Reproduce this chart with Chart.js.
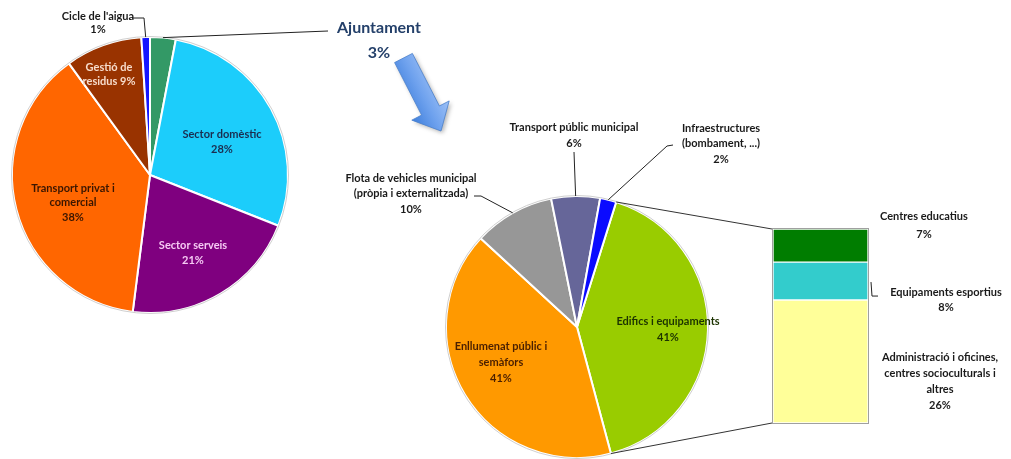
<!DOCTYPE html>
<html>
<head>
<meta charset="utf-8">
<title>Consum energètic</title>
<script src="https://cdn.jsdelivr.net/npm/chart.js@4.4.0/dist/chart.umd.min.js"></script>
<style>
  html, body { margin: 0; padding: 0; background: #fff; overflow: hidden; }
  #wrap { position: relative; width: 1011px; height: 459px; }
  #wrap canvas { position: absolute; left: 0; top: 0; }
</style>
</head>
<body>
<div id="wrap">
  <canvas id="total-chart" width="1011" height="459"></canvas>
  <canvas id="ajunt-chart" width="1011" height="459"></canvas>
  <canvas id="edif-chart" width="1011" height="459"></canvas>
</div>
<script>
// --- data ---
const totalLabels = [['Ajuntament'], ['Sector domèstic'], ['Sector serveis'], ['Transport privat i', 'comercial'], ['Gestió de', 'residus'], ["Cicle de l'aigua"]];
const totalValues = [3, 28, 21, 38, 9, 1];
const totalColors = ['#339966', '#1ccdfb', '#7f007f', '#ff6600', '#993300', '#1515ff'];

const ajuntLabels = [['Edifics i equipaments'], ['Enllumenat públic i', 'semàfors'], ['Flota de vehicles municipal', '(pròpia i externalitzada)'], ['Transport públic municipal'], ['Infraestructures', '(bombament, ...)']];
const ajuntValues = [41, 41, 10, 6, 2];
const ajuntColors = ['#99cc00', '#ff9900', '#979797', '#666699', '#0a0aff'];

const edifLabels = [['Administració i oficines,', 'centres socioculturals i', 'altres'], ['Equipaments esportius'], ['Centres educatius']];
const edifValues = [26, 8, 7];
const edifColors = ['#ffff99', '#33cccc', '#007d00'];

const FONT = 'Lato, "Liberation Sans", sans-serif';

// label placement (offsets from pie centre / bar segment centre)
const totalLayout = [
  { dx: 229, dy: -147, lh: 25, size: 16, color: '#24406a', leader: [[178, -144]] },
  { dx: 72, dy: -41, lh: 15, color: '#1b2d4f' },
  { dx: 43, dy: 70, lh: 15, color: '#f6c9f4' },
  { dx: -77, dy: 13, lh: 14.5, color: '#3a1600' },
  { dx: -41, dy: -108, lh: 14, color: '#f7dccb', inline: true },
  { dx: -52, dy: -159, lh: 13, color: '#1a1a1a', leader: [[-18, -157], [-6, -157]] }
];
const ajuntLayout = [
  { dx: 91, dy: -6, lh: 16, color: '#1c3300' },
  { dx: -76, dy: 19, lh: 16, color: '#4a1f00' },
  { dx: -166, dy: -149, lh: 15.5, color: '#1a1a1a', leader: [[-103, -131], [-96, -131]] },
  { dx: -3, dy: -200, lh: 16, color: '#1a1a1a', leader: [[-3, -175]] },
  { dx: 144, dy: -199, lh: 15.5, color: '#1a1a1a', leader: [[96, -182], [90, -181]] }
];
const edifLayout = [
  { dx: 119.5, dy: -4.5, lh: 16, color: '#1a1a1a' },
  { dx: 125.5, dy: 11, lh: 15, color: '#1a1a1a', leader: [[50.5, 1], [51.5, 15], [57.5, 15]], free: true },
  { dx: 103.5, dy: -29.5, lh: 18, color: '#1a1a1a' }
];

function anchorOf(el) {
  if (el.base !== undefined) {
    return { x: el.x, y: (el.y + el.base) / 2 };
  }
  return { x: el.x, y: el.y };
}

function markPoint(el) {
  const mid = (el.startAngle + el.endAngle) / 2;
  return { x: el.x + Math.cos(mid) * el.outerRadius, y: el.y + Math.sin(mid) * el.outerRadius };
}

const sliceLabels = {
  id: 'sliceLabels',
  afterDatasetsDraw(chart, args, opts) {
    const ctx = chart.ctx;
    const meta = chart.getDatasetMeta(0);
    const values = chart.data.datasets[0].data;
    ctx.save();
    ctx.textAlign = 'center';
    ctx.textBaseline = 'middle';
    opts.items.forEach((it, i) => {
      const el = meta.data[i];
      const a = anchorOf(el);
      if (it.leader) {
        ctx.beginPath();
        ctx.strokeStyle = '#222';
        ctx.lineWidth = 1;
        it.leader.forEach((p, k) => {
          const x = a.x + p[0], y = a.y + p[1];
          if (k === 0) ctx.moveTo(x, y); else ctx.lineTo(x, y);
        });
        if (!it.free) {
          const m = markPoint(el);
          ctx.lineTo(m.x, m.y);
        }
        ctx.stroke();
      }
      const lines = chart.data.labels[i].slice();
      const pct = values[i] + '%';
      if (it.inline) lines[lines.length - 1] += ' ' + pct; else lines.push(pct);
      ctx.fillStyle = it.color;
      ctx.font = 'bold ' + (it.size || 11) + 'px ' + FONT;
      lines.forEach((t, k) => ctx.fillText(t, a.x + it.dx, a.y + it.dy + k * it.lh));
    });
    ctx.restore();
  }
};

const pieRim = {
  id: 'pieRim',
  afterDatasetsDraw(chart) {
    const el = chart.getDatasetMeta(0).data[0];
    const ctx = chart.ctx;
    ctx.save();
    ctx.beginPath();
    ctx.strokeStyle = '#cfcfcf';
    ctx.lineWidth = 1;
    ctx.arc(el.x, el.y, el.outerRadius + 0.5, 0, Math.PI * 2);
    ctx.stroke();
    ctx.restore();
  }
};

// the big blue arrow between the two pies
const blueArrow = {
  id: 'blueArrow',
  afterDraw(chart) {
    const ctx = chart.ctx;
    const tail = [403.5, 58], tip = [441, 131];
    const len = Math.hypot(tip[0] - tail[0], tip[1] - tail[1]);
    const ux = (tip[0] - tail[0]) / len, uy = (tip[1] - tail[1]) / len;
    const nx = -uy, ny = ux;
    const shaft = 10, head = 21, headLen = 23;
    const bx = tip[0] - ux * headLen, by = tip[1] - uy * headLen;
    const pts = [
      [tail[0] + nx * shaft, tail[1] + ny * shaft],
      [bx + nx * shaft, by + ny * shaft],
      [bx + nx * head, by + ny * head],
      tip,
      [bx - nx * head, by - ny * head],
      [bx - nx * shaft, by - ny * shaft],
      [tail[0] - nx * shaft, tail[1] - ny * shaft]
    ];
    ctx.save();
    ctx.shadowColor = 'rgba(0,0,0,0.3)';
    ctx.shadowBlur = 4;
    ctx.shadowOffsetX = 2;
    ctx.shadowOffsetY = 2;
    const g = ctx.createLinearGradient(tail[0] + nx * head, tail[1] + ny * head, tail[0] - nx * head, tail[1] - ny * head);
    g.addColorStop(0, '#3f7fdc');
    g.addColorStop(0.5, '#6fa2ee');
    g.addColorStop(1, '#9cc0f6');
    ctx.fillStyle = g;
    ctx.beginPath();
    pts.forEach((p, k) => { if (k === 0) ctx.moveTo(p[0], p[1]); else ctx.lineTo(p[0], p[1]); });
    ctx.closePath();
    ctx.fill();
    ctx.shadowColor = 'transparent';
    ctx.strokeStyle = '#4a80cc';
    ctx.lineWidth = 0.8;
    ctx.stroke();
    ctx.restore();
  }
};

function pieOptions(padding, radius, rotation, items) {
  return {
    responsive: false,
    animation: false,
    events: [],
    rotation: rotation,
    layout: { padding: padding },
    plugins: {
      legend: { display: false },
      tooltip: { enabled: false },
      sliceLabels: { items: items }
    }
  };
}

const totalChart = new Chart(document.getElementById('total-chart'), {
  type: 'pie',
  data: {
    labels: totalLabels,
    datasets: [{
      data: totalValues,
      backgroundColor: totalColors,
      borderColor: '#ffffff',
      borderWidth: 2,
      radius: 138,
      clip: false
    }]
  },
  options: pieOptions({ left: 0, top: 0, right: 711, bottom: 109 }, 138, 0, totalLayout),
  plugins: [pieRim, sliceLabels, blueArrow]
});

const ajuntChart = new Chart(document.getElementById('ajunt-chart'), {
  type: 'pie',
  data: {
    labels: ajuntLabels,
    datasets: [{
      data: ajuntValues,
      backgroundColor: ajuntColors,
      borderColor: '#ffffff',
      borderWidth: 2,
      radius: 131,
      clip: false
    }]
  },
  options: pieOptions({ left: 442, top: 196, right: 299, bottom: 1 }, 131, 17.4, ajuntLayout),
  plugins: [pieRim, sliceLabels]
});

// outline of the stacked bar + the two lines joining it to the "Edifics" slice
const barFrame = {
  id: 'barFrame',
  afterDatasetsDraw(chart) {
    const ctx = chart.ctx;
    const metas = chart.getSortedVisibleDatasetMetas();
    const bottomEl = metas[0].data[0];
    const topEl = metas[metas.length - 1].data[0];
    const left = bottomEl.x - bottomEl.width / 2;
    const right = bottomEl.x + bottomEl.width / 2;
    const top = topEl.y, bottom = bottomEl.base;
    ctx.save();
    ctx.strokeStyle = '#a0a0a0';
    ctx.lineWidth = 1;
    ctx.strokeRect(Math.round(left) - 0.5, Math.round(top) - 0.5, Math.round(right - left) + 1, Math.round(bottom - top) + 1);

    const arc = ajuntChart.getDatasetMeta(0).data[0];
    const p1 = { x: arc.x + Math.cos(arc.startAngle) * arc.outerRadius, y: arc.y + Math.sin(arc.startAngle) * arc.outerRadius };
    const p2 = { x: arc.x + Math.cos(arc.endAngle) * arc.outerRadius, y: arc.y + Math.sin(arc.endAngle) * arc.outerRadius };
    ctx.strokeStyle = '#333';
    ctx.beginPath();
    ctx.moveTo(p1.x, p1.y);
    ctx.lineTo(left - 1, top);
    ctx.moveTo(p2.x, p2.y);
    ctx.lineTo(left - 1, bottom);
    ctx.stroke();
    ctx.restore();
  }
};

const edifTotal = edifValues.reduce((a, b) => a + b, 0);

const edifChart = new Chart(document.getElementById('edif-chart'), {
  type: 'bar',
  data: {
    labels: [''],
    datasets: edifValues.map((v, i) => ({
      label: edifLabels[i].join(' '),
      data: [v],
      backgroundColor: edifColors[i],
      borderColor: '#ffffff',
      borderWidth: 1,
      borderSkipped: false,
      barPercentage: 1,
      categoryPercentage: 1
    }))
  },
  options: {
    responsive: false,
    animation: false,
    events: [],
    layout: { padding: { left: 773, right: 143, top: 229, bottom: 36 } },
    scales: {
      x: { display: false, stacked: true },
      y: { display: false, stacked: true, min: 0, max: edifTotal }
    },
    plugins: {
      legend: { display: false },
      tooltip: { enabled: false }
    }
  },
  plugins: [barFrame, {
    id: 'barLabels',
    afterDatasetsDraw(chart) {
      const ctx = chart.ctx;
      ctx.save();
      ctx.textAlign = 'center';
      ctx.textBaseline = 'middle';
      edifLayout.forEach((it, i) => {
        const el = chart.getDatasetMeta(i).data[0];
        const a = anchorOf(el);
        if (it.leader) {
          ctx.beginPath();
          ctx.strokeStyle = '#222';
          ctx.lineWidth = 1;
          it.leader.forEach((p, k) => {
            if (k === 0) ctx.moveTo(a.x + p[0], a.y + p[1]); else ctx.lineTo(a.x + p[0], a.y + p[1]);
          });
          ctx.stroke();
        }
        const lines = edifLabels[i].concat([edifValues[i] + '%']);
        ctx.fillStyle = it.color;
        ctx.font = 'bold 11px ' + FONT;
        lines.forEach((t, k) => ctx.fillText(t, a.x + it.dx, a.y + it.dy + k * it.lh));
      });
      ctx.restore();
    }
  }]
});
</script>
</body>
</html>
